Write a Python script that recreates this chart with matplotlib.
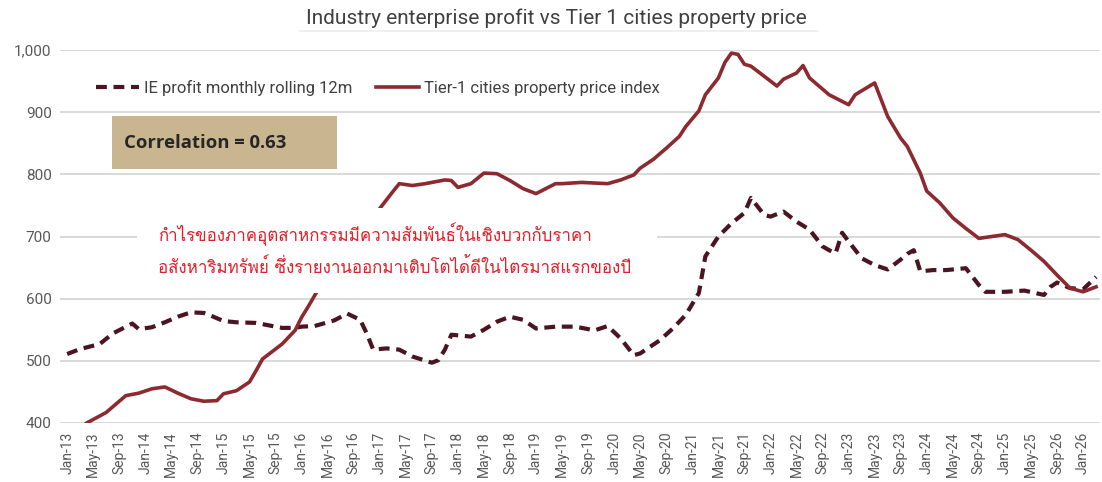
import matplotlib
matplotlib.use("Agg")
import matplotlib.pyplot as plt
from matplotlib import font_manager
from matplotlib.ft2font import FT2Font
from matplotlib.lines import Line2D
from matplotlib.patches import Rectangle

# months counted from Jan-13 (0 = Jan-13)
ie_month = [0, 2, 5, 7, 10, 11, 13, 15, 17, 19, 21, 22, 24, 26, 29, 31, 33, 35, 36, 38,
            41, 43, 45, 46, 47, 49, 51, 53, 56, 57, 58, 59, 62, 64, 66, 68, 70, 72, 75,
            78, 81, 83, 85, 87, 88, 91, 93, 95, 97, 98, 100, 102, 104, 105, 107, 108,
            110, 112, 114, 116, 117, 118, 119, 120, 122, 124, 126, 128, 129, 130, 131,
            133, 135, 138, 140, 141, 144, 147, 150, 151, 152, 154, 156, 158]
ie_profit = [511, 519, 527, 544, 560, 551, 554, 562, 571, 578, 577, 573, 564, 562, 561,
             557, 553, 553, 555, 556, 565, 576, 566, 544, 518, 520, 518, 507, 497, 501,
             518, 542, 539, 550, 563, 571, 566, 552, 555, 555, 549, 556, 536, 509, 512,
             533, 552, 574, 609, 668, 700, 721, 738, 762, 735, 732, 740, 724, 711, 684,
             678, 673, 706, 692, 665, 654, 647, 663, 672, 678, 644, 646, 646, 649, 622,
             611, 611, 613, 606, 619, 626, 617, 615, 635]

prop_month = [2, 3, 6, 9, 11, 13, 15, 17, 19, 21, 23, 24, 26, 28, 29, 30, 32, 33, 35, 36,
              37, 38, 40, 43, 46, 48, 50, 51, 53, 55, 58, 59, 60, 62, 64, 66, 68, 70, 72,
              75, 76, 79, 81, 83, 85, 87, 88, 90, 92, 94, 95, 97, 98, 100, 101, 102, 103,
              104, 105, 107, 109, 110, 112, 113, 114, 116, 117, 120, 121, 124, 126, 128,
              129, 131, 132, 134, 136, 138, 140, 142, 144, 146, 148, 150, 152, 154, 156, 158]
prop_price = [392, 400, 417, 444, 448, 455, 458, 448, 439, 435, 436, 447, 452, 466, 484,
              503, 519, 527, 549, 570, 587, 605, 640, 680, 715, 745, 772, 785, 782, 785,
              791, 790, 779, 785, 802, 801, 790, 777, 769, 785, 785, 787, 786, 785, 791,
              799, 810, 824, 842, 861, 877, 902, 928, 955, 980, 995, 993, 977, 974, 958,
              942, 953, 963, 975, 955, 937, 928, 912, 928, 947, 893, 858, 845, 802, 773,
              754, 730, 713, 697, 700, 703, 695, 678, 660, 638, 617, 611, 619]

tick_labels = ["Jan-13", "May-13", "Sep-13", "Jan-14", "May-14", "Sep-14", "Jan-15",
               "May-15", "Sep-15", "Jan-16", "May-16", "Sep-16", "Jan-17", "May-17",
               "Sep-17", "Jan-18", "May-18", "Sep-18", "Jan-19", "May-19", "Sep-19",
               "Jan-20", "May-20", "Sep-20", "Jan-21", "May-21", "Sep-21", "Jan-22",
               "May-22", "Sep-22", "Jan-23", "May-23", "Sep-23", "Jan-24", "May-24",
               "Sep-24", "Jan-25", "May-25", "Sep-26", "Jan-26"]
tick_pos = list(range(0, 4 * len(tick_labels), 4))

title = "Industry enterprise profit vs Tier 1 cities property price"
ie_name = "IE profit monthly rolling 12m"
prop_name = "Tier-1 cities property price index"
corr_text = "Correlation = 0.63"
thai_lines = ["กำไรของภาคอุตสาหกรรมมีความสัมพันธ์ในเชิงบวกกับราคา",
              "อสังหาริมทรัพย์ ซึ่งรายงานออกมาเติบโตได้ดีในไตรมาสแรกของปี"]


def find_thai_font():
    for f in font_manager.fontManager.ttflist:
        try:
            if 0x0E01 in FT2Font(f.fname).get_charmap():
                return f.name
        except Exception:
            pass
    return None


thai_font = find_thai_font()
thai_family = [thai_font, "DejaVu Sans"] if thai_font else ["DejaVu Sans"]

plt.rcParams["font.family"] = ["Liberation Sans Narrow", "Roboto", "DejaVu Sans"]

fig = plt.figure(figsize=(11.02, 4.82), dpi=100)
ax = fig.add_axes([60 / 1102, 1 - 423 / 482, 1040 / 1102, 373 / 482])

ax.plot(ie_month, ie_profit, color="#4a1420", lw=3.0, ls=(0, (2.6, 1.6)),
        label=ie_name, zorder=3, solid_capstyle="butt")
ax.plot(prop_month, prop_price, color="#8c2a30", lw=2.6, label=prop_name, zorder=3)

ax.set_ylim(400, 1000)
ax.set_xlim(-1.1, 158.6)
ax.set_yticks(range(400, 1001, 100))
ax.set_yticklabels([f"{v:,}" for v in range(400, 1001, 100)], color="#595959", fontsize=11)
ax.set_xticks(tick_pos)
ax.set_xticklabels(tick_labels, rotation=90, color="#595959", fontsize=10)
ax.tick_params(length=0, pad=6)
ax.grid(axis="y", color="#d9d9d9", lw=1.4, zorder=0)
for s in ax.spines.values():
    s.set_visible(False)

ax.legend(loc="upper left", bbox_to_anchor=(0.02, 0.96), ncol=2, frameon=False,
          fontsize=12, labelcolor="#404040", handlelength=2.6, columnspacing=1.4,
          handletextpad=0.3)

# correlation box
ax.add_patch(Rectangle((0.05, 0.681), 0.216, 0.142, transform=ax.transAxes,
                       facecolor="#c9b590", edgecolor="none", zorder=4))
ax.text(0.062, 0.752, corr_text, transform=ax.transAxes, fontsize=13.3,
        fontweight="bold", color="#262626", va="center", family=["Open Sans", "DejaVu Sans"],
        zorder=5)

# thai note on white background
ax.add_patch(Rectangle((0.074, 0.349), 0.50, 0.227, transform=ax.transAxes,
                       facecolor="white", edgecolor="none", zorder=4))
ax.text(0.094, 0.507, thai_lines[0], transform=ax.transAxes, fontsize=12.2,
        color="#e0202a", va="center", family=thai_family, zorder=5)
ax.text(0.094, 0.418, thai_lines[1], transform=ax.transAxes, fontsize=12.2,
        color="#e0202a", va="center", family=thai_family, zorder=5)

fig.text(0.505, 1 - 18 / 482, title, ha="center", va="center", fontsize=15,
         color="#404040", family=["Roboto", "DejaVu Sans"])
fig.add_artist(Line2D([300 / 1102, 818 / 1102], [1 - 31 / 482, 1 - 31 / 482],
                      color="#eeeeee", lw=1.2))

fig.savefig("out.png", dpi=100)
